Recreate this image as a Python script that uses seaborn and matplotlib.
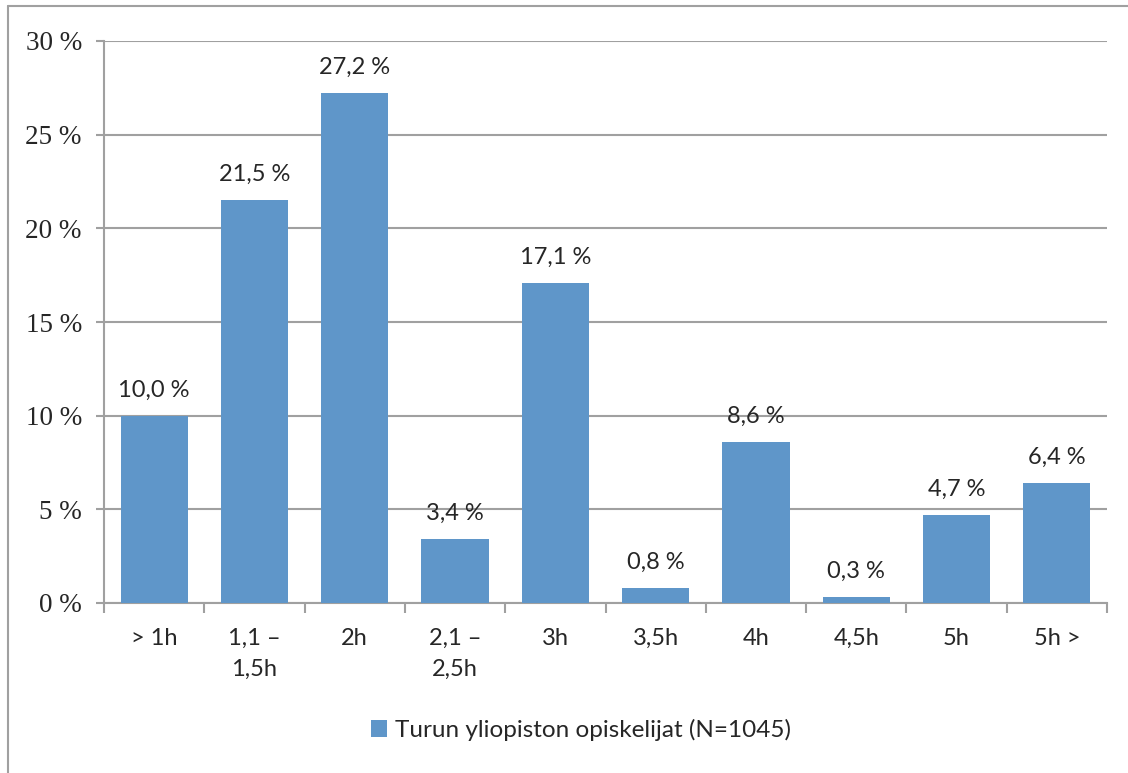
import matplotlib
matplotlib.use("Agg")
import matplotlib.pyplot as plt
from matplotlib.lines import Line2D
from matplotlib.patches import Patch
import seaborn as sns
import pandas as pd
import numpy as np

categories = ["> 1h", "1,1 –\n1,5h", "2h", "2,1 –\n2,5h", "3h", "3,5h", "4h", "4,5h", "5h", "5h >"]
values = [10.0, 21.5, 27.2, 3.4, 17.1, 0.8, 8.6, 0.3, 4.7, 6.4]
y_ticks = [0, 5, 10, 15, 20, 25, 30]
series_name = "Turun yliopiston opiskelijat (N=1045)"

bar_color = "#5F96C9"
grid_color = "#A0A0A0"

sns.set_theme(style="white")
plt.rcParams["font.family"] = ["Lato", "DejaVu Sans"]

df = pd.DataFrame({"cat": categories, "val": values})

fig = plt.figure(figsize=(11.28, 7.73), dpi=100)
ax = fig.add_axes([104 / 1128, 1 - 603 / 773, (1107 - 104) / 1128, (603 - 41) / 773])

sns.barplot(data=df, x="cat", y="val", color=bar_color, saturation=1,
            width=0.67, ax=ax, zorder=3, linewidth=0, edgecolor="none")

ax.set_xlim(-0.5, len(categories) - 0.5)
ax.set_ylim(0, 30)
ax.set_yticks(y_ticks)
ax.set_yticklabels([f"{t} %" for t in y_ticks], fontfamily="Liberation Serif", fontsize=19.5)
ax.yaxis.grid(True, color=grid_color, linewidth=1.5, zorder=0)
ax.set_axisbelow(True)
ax.tick_params(axis="y", length=6, width=1.5, color=grid_color, pad=10, left=True)

# category boundary ticks on the x axis
ax.set_xticks(np.arange(-0.5, len(categories)), minor=True)
ax.set_xticks(range(len(categories)))
ax.set_xticklabels(categories, fontsize=17, linespacing=1.6)
ax.tick_params(axis="x", which="major", length=0, pad=18)
ax.tick_params(axis="x", which="minor", length=7, width=1.5, color=grid_color, bottom=True)
ax.set_xlabel("")
ax.set_ylabel("")

for side in ["top", "right"]:
    ax.spines[side].set_visible(False)
for side in ["left", "bottom"]:
    ax.spines[side].set_color(grid_color)
    ax.spines[side].set_linewidth(1.5)

for i, v in enumerate(values):
    ax.annotate(f"{v:.1f} %".replace(".", ","), xy=(i, v), xytext=(0, 11),
                textcoords="offset points", ha="center", va="bottom", fontsize=17)

# legend
handle = Patch(facecolor=bar_color, edgecolor="none")
fig.legend([handle], [series_name], loc="center", bbox_to_anchor=(581 / 1128, 1 - 730 / 773),
           frameon=False, fontsize=17.5, handlelength=0.65, handleheight=0.65, handletextpad=0.35)

# outer chart frame
fig.add_artist(Line2D([8 / 1128, 1], [1 - 6 / 773, 1 - 6 / 773], color=grid_color, linewidth=1.5,
                      transform=fig.transFigure))
fig.add_artist(Line2D([8 / 1128, 8 / 1128], [0, 1 - 6 / 773], color=grid_color, linewidth=1.5,
                      transform=fig.transFigure))

fig.savefig("out.png", dpi=100, facecolor="white")
